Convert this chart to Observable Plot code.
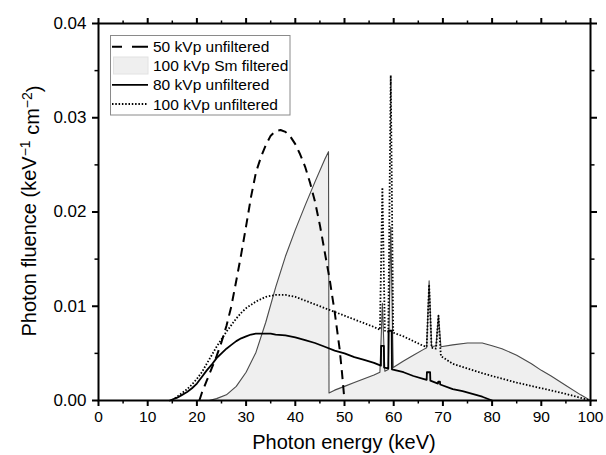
<!DOCTYPE html>
<html>
<head>
<meta charset="utf-8">
<script src="https://cdn.jsdelivr.net/npm/d3@7"></script>
<script src="https://cdn.jsdelivr.net/npm/@observablehq/plot@0.6"></script>
<style>
  html, body { margin: 0; padding: 0; background: white; }
  #chart svg { display: block; }
</style>
</head>
<body>
<div id="chart"></div>
<script>
// ---- Data ----
// 50 kVp unfiltered (dashed)
const e50 = [20.5,21,22,23,24,25,26,27,28,29,30,31,32,33,34,35,36,37,38,39,40,41,42,43,44,45,46,47,48,49,49.5,50];
const f50 = [0,0.0008,0.0021,0.0034,0.0047,0.0062,0.0079,0.0100,0.0127,0.0155,0.0185,0.0216,0.0242,0.0258,0.0271,0.0281,0.0286,0.0287,0.0285,0.0280,0.0272,0.0261,0.0248,0.0231,0.0211,0.0186,0.0157,0.0128,0.0094,0.0055,0.0029,0];

// 100 kVp Sm filtered (grey area)
const eSm = [22.5,24,26,28,30,32,34,36,38,40,42,44,46,46.75,46.85,48,50,52,54,56,57.2,57.7,58.2,58.9,59.4,59.9,62,64,66,66.7,67.2,67.7,68.6,69.1,69.6,72,75,78,80,82,85,88,90,92,95,98,100];
const fSm = [0,0.0002,0.0006,0.0015,0.0030,0.0051,0.0083,0.0120,0.0153,0.0181,0.0207,0.0232,0.0256,0.0264,0.0008,0.0011,0.0015,0.0019,0.0023,0.0027,0.0030,0.0103,0.0031,0.0033,0.0184,0.0035,0.0042,0.0048,0.0054,0.0056,0.0127,0.0057,0.0058,0.0090,0.0057,0.0059,0.0061,0.0061,0.0058,0.0055,0.0048,0.0039,0.0032,0.0026,0.0016,0.0006,0];

// 80 kVp unfiltered (solid)
const e80 = [14.5,16,17,18,19,20,21,22,23,24,25,26,27,28,29,30,31,32,33,34,35,36,38,40,42,44,46,48,50,52,54,56,57.4,57.45,58.0,58.05,58.9,58.95,59.6,59.65,62,64,66,66.7,66.75,67.4,67.45,69.0,69.05,69.4,69.45,72,74,76,78,80];
const f80 = [0,0.0003,0.0006,0.0009,0.0013,0.0018,0.0025,0.0032,0.0038,0.0045,0.0050,0.0055,0.0059,0.0063,0.0066,0.0068,0.0070,0.0071,0.0071,0.0071,0.0071,0.0070,0.0069,0.0067,0.0064,0.0061,0.0057,0.0053,0.0050,0.0046,0.0043,0.0040,0.0037,0.0058,0.0058,0.0035,0.0034,0.0074,0.0074,0.0033,0.0030,0.0026,0.0023,0.0022,0.0030,0.0030,0.0021,0.0018,0.0020,0.0020,0.0017,0.0012,0.0010,0.0007,0.0004,0];

// 100 kVp unfiltered (dotted)
const e100 = [15,16,17,18,19,20,21,22,23,24,25,26,27,28,29,30,32,34,36,38,40,42,44,46,48,50,52,54,56,57.2,57.7,58.2,58.9,59.4,59.9,62,64,66,66.7,67.2,67.7,68.6,69.1,69.5,69.6,72,75,78,80,85,90,95,100];
const f100 = [0,0.0004,0.0008,0.0012,0.0017,0.0023,0.0030,0.0039,0.0048,0.0057,0.0065,0.0073,0.0080,0.0087,0.0093,0.0098,0.0105,0.0110,0.0112,0.0112,0.0110,0.0106,0.0102,0.0098,0.0094,0.0090,0.0086,0.0082,0.0078,0.0075,0.0226,0.0074,0.0073,0.0345,0.0072,0.0068,0.0063,0.0058,0.0057,0.0123,0.0056,0.0055,0.0090,0.0054,0.0047,0.0039,0.0034,0.0029,0.0026,0.0019,0.0013,0.0007,0];

// Ticks and labels
const xMajor = [0,10,20,30,40,50,60,70,80,90,100];
const xMinor = [5,15,25,35,45,55,65,75,85,95];
const yMajor = [0,0.01,0.02,0.03,0.04];
const yMinor = [0.005,0.015,0.025,0.035];
const xTitle = "Photon energy (keV)";
const legendLabels = ["50 kVp unfiltered","100 kVp Sm filtered","80 kVp unfiltered","100 kVp unfiltered"];

const toRows = (e, f) => e.map((x, i) => ({e: x, f: f[i]}));
const d50 = toRows(e50, f50), dSm = toRows(eSm, fSm), d80 = toRows(e80, f80), d100 = toRows(e100, f100);

const font = "'Liberation Sans', Arial, Helvetica, sans-serif";
const noText = () => "";

const plot = Plot.plot({
  width: 606,
  height: 455,
  marginLeft: 98,
  marginRight: 16,
  marginTop: 23,
  marginBottom: 55,
  x: {domain: [0, 100]},
  y: {domain: [0, 0.04]},
  style: {fontFamily: font, color: "black", background: "white"},
  marks: [
    Plot.areaY(dSm, {x: "e", y: "f", fill: "#efefef"}),
    Plot.lineY(dSm, {x: "e", y: "f", stroke: "#4a4a4a", strokeWidth: 1.1}),
    Plot.lineY(d100, {x: "e", y: "f", stroke: "black", strokeWidth: 1.8, strokeDasharray: "1.5,1.8", strokeLinecap: "butt"}),
    Plot.lineY(d80, {x: "e", y: "f", stroke: "black", strokeWidth: 1.8}),
    Plot.lineY(d50, {x: "e", y: "f", stroke: "black", strokeWidth: 2, strokeDasharray: "9,6", strokeLinecap: "butt"}),
    // bottom axis
    Plot.axisX({stroke: "black", ticks: xMajor, tickSize: 6, strokeWidth: 2, tickPadding: 4, fontSize: 15.5, tickFormat: d => String(d), label: null}),
    Plot.axisX({stroke: "black", ticks: xMinor, tickSize: 3.5, strokeWidth: 1.5, tickFormat: noText, label: null}),
    // top axis
    Plot.axisX({stroke: "black", anchor: "top", ticks: xMajor, tickSize: 6, strokeWidth: 2, tickFormat: noText, label: null}),
    Plot.axisX({stroke: "black", anchor: "top", ticks: xMinor, tickSize: 3.5, strokeWidth: 1.5, tickFormat: noText, label: null}),
    // left axis
    Plot.axisY({stroke: "black", ticks: yMajor, tickSize: 6, strokeWidth: 2, tickPadding: 6, fontSize: 17, tickFormat: d3.format(".2f"), label: null}),
    Plot.axisY({stroke: "black", ticks: yMinor, tickSize: 3.5, strokeWidth: 1.5, tickFormat: noText, label: null}),
    // right axis
    Plot.axisY({stroke: "black", anchor: "right", ticks: yMajor, tickSize: 6, strokeWidth: 2, tickFormat: noText, label: null}),
    Plot.axisY({stroke: "black", anchor: "right", ticks: yMinor, tickSize: 3.5, strokeWidth: 1.5, tickFormat: noText, label: null}),
    Plot.frame({stroke: "black", strokeWidth: 2})
  ]
});

document.getElementById("chart").appendChild(plot);

// ---- Axis titles and legend (real text) ----
const svg = d3.select(plot);
svg.append("text")
  .attr("x", 344).attr("y", 449)
  .attr("text-anchor", "middle")
  .attr("font-family", font).attr("font-size", 20).attr("fill", "black")
  .text(xTitle);

const yt = svg.append("text")
  .attr("transform", "translate(36,211) rotate(-90)")
  .attr("text-anchor", "middle")
  .attr("font-family", font).attr("font-size", 20).attr("fill", "black");
yt.append("tspan").text("Photon fluence (keV");
yt.append("tspan").attr("dy", "-0.45em").attr("font-size", 14).text("\u22121");
yt.append("tspan").attr("dy", "0.45em").text(" cm");
yt.append("tspan").attr("dy", "-0.45em").attr("font-size", 14).text("\u22122");
yt.append("tspan").attr("dy", "0.45em").text(")");

const lg = svg.append("g").attr("text-anchor", "start");
lg.append("rect").attr("x", 110.5).attr("y", 35.5).attr("width", 179.5).attr("height", 79.5)
  .attr("fill", "white").attr("stroke", "#8a8a8a").attr("stroke-width", 1);
const rowsY = [46.7, 65.5, 84.8, 104];
lg.append("line").attr("x1", 112).attr("x2", 148).attr("y1", rowsY[0]).attr("y2", rowsY[0])
  .attr("stroke", "black").attr("stroke-width", 2).attr("stroke-dasharray", "10,10,16");
lg.append("rect").attr("x", 113.5).attr("y", 57).attr("width", 34.5).attr("height", 17)
  .attr("fill", "#efefef").attr("stroke", "#e2e2e2").attr("stroke-width", 1);
lg.append("line").attr("x1", 112).attr("x2", 148).attr("y1", rowsY[2]).attr("y2", rowsY[2])
  .attr("stroke", "black").attr("stroke-width", 1.8);
lg.append("line").attr("x1", 112).attr("x2", 148).attr("y1", rowsY[3]).attr("y2", rowsY[3])
  .attr("stroke", "black").attr("stroke-width", 1.8).attr("stroke-dasharray", "1.5,1.8");
legendLabels.forEach((t, i) => {
  lg.append("text").attr("x", 153).attr("y", rowsY[i] + 5.5).attr("text-anchor", "start")
    .attr("font-family", font).attr("font-size", 15.5).attr("fill", "black").text(t);
});
</script>
</body>
</html>
